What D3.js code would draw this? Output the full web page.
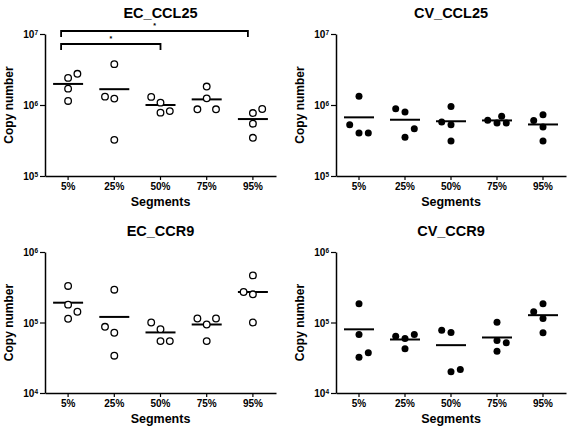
<!DOCTYPE html>
<html>
<head>
<meta charset="utf-8">
<script src="https://cdn.jsdelivr.net/npm/d3@7"></script>
<style>
  html, body { margin: 0; padding: 0; background: #fff; }
  svg { display: block; }
  text { font-family: "Liberation Sans", Arial, sans-serif; fill: #000; }
</style>
</head>
<body>
<svg id="chart" width="574" height="433"></svg>
<script>
// ---------------- data ----------------
const segments = ["5%", "25%", "50%", "75%", "95%"];

// EC_CCL25 (open circles)
const ecCcl25 = [
  [2.41e6, 2.75e6, 1.70e6, 1.14e6],
  [3.76e6, 1.31e6, 1.23e6, 3.23e5],
  [1.30e6, 1.08e6, 7.8e5, 8.2e5],
  [1.82e6, 1.24e6, 8.7e5, 8.7e5],
  [8.78e5, 7.7e5, 5.45e5, 3.45e5]
];
const ecCcl25Mean = [1.98e6, 1.67e6, 1.0e6, 1.2e6, 6.34e5];
const ecCcl25Jitter = [[0, 1, 0, 0], [0, -1, 0, 0], [-1, 0, 0, 1], [0, 0, -1, 1], [1, 0, 0, 0]];

// CV_CCL25 (filled circles)
const cvCcl25 = [
  [1.33e6, 5.27e5, 4.02e5, 4.02e5],
  [8.87e5, 7.96e5, 4.63e5, 3.52e5],
  [9.5e5, 5.74e5, 5.25e5, 3.10e5],
  [6.1e5, 6.95e5, 5.56e5, 5.56e5],
  [6.06e5, 7.29e5, 4.89e5, 3.10e5]
];
const cvCcl25Mean = [6.7e5, 6.2e5, 5.9e5, 6.06e5, 5.32e5];
const cvCcl25Jitter = [[0, -1, 0, 1], [-1, 0, 1, 0], [0, -1, 0, 0], [-1, 0.5, 0, 1], [-1, 0, 0, 0]];

// EC_CCR9 (open circles)
const ecCcr9 = [
  [3.30e5, 1.79e5, 1.42e5, 1.13e5],
  [2.92e5, 8.69e4, 7.15e4, 3.38e4],
  [1.0e5, 8.05e4, 5.45e4, 5.45e4],
  [1.14e5, 1.14e5, 9.37e4, 5.45e4],
  [4.66e5, 2.71e5, 2.51e5, 1.0e5]
];
const ecCcr9Mean = [1.91e5, 1.20e5, 7.23e4, 9.37e4, 2.71e5];
const ecCcr9Jitter = [[0, 0, 1, 0], [0, -1, 0, 0], [-1, 0, 0, 1], [-1, 1, 0, 0], [0, -1, 0, 0]];

// CV_CCR9 (filled circles)
const cvCcr9 = [
  [1.84e5, 6.76e4, 3.72e4, 3.22e4],
  [6.40e4, 6.76e4, 5.93e4, 4.23e4],
  [7.78e4, 7.21e4, 2.0e4, 2.15e4],
  [1.01e5, 5.56e4, 5.15e4, 3.92e4],
  [1.42e5, 1.84e5, 1.14e5, 7.13e4]
];
const cvCcr9Mean = [8.0e4, 5.74e4, 4.77e4, 6.13e4, 1.27e5];
const cvCcr9Jitter = [[0, 0, 1, 0], [-1, 1, 0, 0], [-1, 0, 0, 1], [0, 0, 1, 0], [-1, 0, 0, 0]];

// tick values
const ccl25Ticks = [1e5, 1e6, 1e7];
const ccr9Ticks = [1e4, 1e5, 1e6];

// significance (EC_CCL25 only)
const sigPairs = [["5%", "95%"], ["5%", "50%"]];
const sigLabels = ["*", "*"];

// ---------------- drawing ----------------
const svg = d3.select("#chart");

const panels = [
  { title: "EC_CCL25", values: ecCcl25, means: ecCcl25Mean, jitter: ecCcl25Jitter, ticks: ccl25Ticks, filled: false,
    left: 45, right: 276, top: 34, bottom: 176, sig: true },
  { title: "CV_CCL25", values: cvCcl25, means: cvCcl25Mean, jitter: cvCcl25Jitter, ticks: ccl25Ticks, filled: true,
    left: 336, right: 566, top: 34, bottom: 176, sig: false },
  { title: "EC_CCR9", values: ecCcr9, means: ecCcr9Mean, jitter: ecCcr9Jitter, ticks: ccr9Ticks, filled: false,
    left: 45, right: 276, top: 252, bottom: 393, sig: false },
  { title: "CV_CCR9", values: cvCcr9, means: cvCcr9Mean, jitter: cvCcr9Jitter, ticks: ccr9Ticks, filled: true,
    left: 336, right: 566, top: 252, bottom: 393, sig: false }
];

const slotStep = 9.3;
const r = 3.3;

panels.forEach(p => {
  const g = svg.append("g");
  const x = d3.scaleBand().domain(segments).range([p.left, p.right]).padding(0);
  const y = d3.scaleLog().domain([p.ticks[0], p.ticks[p.ticks.length - 1]]).range([p.bottom, p.top]);
  const cx = seg => x(seg) + x.bandwidth() / 2;

  // x axis
  const xAxis = g.append("g")
    .attr("transform", `translate(0,${p.bottom})`)
    .call(d3.axisBottom(x).tickSize(4).tickSizeOuter(0).tickPadding(3));
  xAxis.select(".domain").attr("stroke", "#000").attr("stroke-width", 1.5);
  xAxis.selectAll(".tick line").attr("stroke", "#000").attr("stroke-width", 1.2);
  xAxis.selectAll(".tick text")
    .attr("font-family", "Liberation Sans, Arial, sans-serif")
    .attr("font-size", 10).attr("font-weight", "bold").attr("fill", "#000");

  // y axis
  const yAxis = g.append("g")
    .attr("transform", `translate(${p.left},0)`)
    .call(d3.axisLeft(y).tickValues(p.ticks).tickFormat(() => "").tickSize(5).tickSizeOuter(0));
  yAxis.select(".domain").attr("stroke", "#000").attr("stroke-width", 1.5);
  yAxis.selectAll(".tick line").attr("stroke", "#000").attr("stroke-width", 1.2);
  yAxis.selectAll(".tick text").each(function (d) {
    const t = d3.select(this)
      .attr("x", -7).attr("dy", "0.35em")
      .attr("font-family", "Liberation Sans, Arial, sans-serif")
      .attr("font-size", 10).attr("font-weight", "bold").attr("fill", "#000")
      .attr("text-anchor", "end");
    t.text(null);
    t.append("tspan").text("10");
    t.append("tspan").attr("font-size", 6.5).attr("dy", "-0.45em").text(Math.round(Math.log10(d)));
  });

  // title
  g.append("text")
    .attr("x", (p.left + p.right) / 2).attr("y", p.top - 16)
    .attr("text-anchor", "middle")
    .attr("font-size", 14.5).attr("font-weight", "bold")
    .text(p.title);

  // x label
  g.append("text")
    .attr("x", (p.left + p.right) / 2).attr("y", p.bottom + 30)
    .attr("text-anchor", "middle")
    .attr("font-size", 12.5).attr("font-weight", "bold")
    .text("Segments");

  // y label
  g.append("text")
    .attr("transform", `translate(${p.left - 32},${(p.top + p.bottom) / 2}) rotate(-90)`)
    .attr("text-anchor", "middle")
    .attr("font-size", 12).attr("font-weight", "bold")
    .text("Copy number");

  // mean lines
  g.append("g").selectAll("line")
    .data(p.means.map((m, i) => ({ seg: segments[i], v: m })))
    .join("line")
    .attr("x1", d => cx(d.seg) - 15).attr("x2", d => cx(d.seg) + 15)
    .attr("y1", d => y(d.v)).attr("y2", d => y(d.v))
    .attr("stroke", "#000").attr("stroke-width", 2);

  // points
  const pts = [];
  p.values.forEach((arr, i) => arr.forEach((v, j) => pts.push({ seg: segments[i], v, s: p.jitter[i][j] })));
  g.append("g").selectAll("circle")
    .data(pts)
    .join("circle")
    .attr("cx", d => cx(d.seg) + d.s * slotStep)
    .attr("cy", d => y(d.v))
    .attr("r", p.filled ? 3.5 : r)
    .attr("fill", p.filled ? "#000" : "#fff")
    .attr("stroke", "#000")
    .attr("stroke-width", p.filled ? 0 : 1.3);

  // significance brackets
  if (p.sig) {
    const levels = [p.top - 3, p.top + 10];
    const lOff = [-7, -7];
    const rOff = [-5, 0];
    sigPairs.forEach((pair, k) => {
      const x1 = cx(pair[0]) + lOff[k];
      const x2 = cx(pair[1]) + rOff[k];
      const yy = levels[k];
      g.append("path")
        .attr("d", `M${x1},${yy + 6}V${yy}H${x2}V${yy + 6}`)
        .attr("fill", "none").attr("stroke", "#000").attr("stroke-width", 1.8);
      g.append("text")
        .attr("x", (x1 + x2) / 2).attr("y", yy - 3)
        .attr("text-anchor", "middle")
        .attr("font-size", 7).attr("font-weight", "bold")
        .text(sigLabels[k]);
    });
  }
});
</script>
</body>
</html>
